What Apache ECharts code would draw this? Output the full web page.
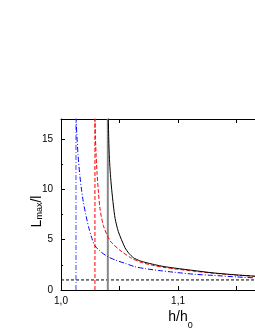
<!DOCTYPE html>
<html><head><meta charset="utf-8">
<script src="https://cdn.jsdelivr.net/npm/echarts@6/dist/echarts.min.js"></script>
<style>html,body{margin:0;padding:0;background:#fff}#c{width:255px;height:330px}</style>
</head><body><div id="c"></div>
<script>
const blueX = [1.0128,1.0135,1.0145,1.0160,1.0175,1.0190,1.0210,1.0235,1.0265,1.029,1.034,1.040,1.047,1.0547,1.063,1.072,1.083,1.097,1.1145,1.13,1.15,1.17];
const blueY = [17.2,15.5,13.5,11.5,10.0,8.8,7.6,6.3,5.1,4.4,3.8,3.31,2.95,2.65,2.32,2.12,1.95,1.76,1.56,1.45,1.3,1.18];
const redX = [1.0290,1.0294,1.0300,1.0308,1.0318,1.0333,1.0362,1.0419,1.0504,1.0604,1.069,1.080,1.088,1.097,1.1145,1.13,1.15,1.17];
const redY = [17.2,15.2,13.4,11.6,10.0,8.1,6.4,4.9,3.95,3.15,2.72,2.42,2.25,2.1,1.86,1.67,1.48,1.33];
const blackX = [1.0404,1.0408,1.0414,1.0422,1.0433,1.0447,1.0462,1.049,1.0547,1.058,1.062,1.067,1.0718,1.080,1.088,1.097,1.1145,1.13,1.15,1.17];
const blackY = [17.2,15.0,13.0,11.5,10.0,8.45,7.12,5.8,4.2,3.65,3.2,2.92,2.75,2.52,2.33,2.18,1.92,1.7,1.5,1.34];
const blueAsym = 1.0128, redAsym = 1.029, blackAsym = 1.040;
const refLevel = 1;
const xMin = 1.0, xMax = 1.17, yMin = 0, yMax = 17;
const xTicks = [1.0, 1.1];
const yTicks = [0, 5, 10, 15];

const zip = (a, b) => a.map((v, i) => [v, b[i]]);
const font = "'Liberation Sans', Arial, sans-serif";
const chart = echarts.init(document.getElementById('c'), null, {renderer: 'canvas'});
const axisCommon = {
  type: 'value', min: xMin, max: xMax, interval: 0.1,
  axisLine: {show: true, onZero: false, lineStyle: {color: '#000', width: 1}},
  axisTick: {show: true, inside: true, length: 4, lineStyle: {color: '#000'}},
  minorTick: {show: true, splitNumber: 2, length: 4, lineStyle: {color: '#000'}},
  splitLine: {show: false}
};
chart.setOption({
  animation: false,
  grid: {left: 61, top: 119, bottom: 40, right: -5, containLabel: false, outerBoundsMode: 'none'},
  xAxis: [
    Object.assign({}, axisCommon, {
      position: 'bottom',
      name: 'h/h{s|0}', nameLocation: 'middle', nameGap: 20, nameMoveOverlap: false,
      nameTextStyle: {fontFamily: font, fontSize: 14, color: '#000', padding: [0, 0, 0, 40],
        rich: {s: {fontSize: 9, fontFamily: font, color: '#000', verticalAlign: 'bottom', padding: [0,0,-6,0]}}},
      axisLabel: {show: true, margin: 6, fontFamily: font, fontSize: 10, color: '#000',
        showMaxLabel: false,
        formatter: v => xTicks.some(t => Math.abs(t - v) < 1e-9) ? v.toFixed(1).replace('.', ',') : ''}
    }),
    Object.assign({}, axisCommon, {position: 'top', axisLabel: {show: false}})
  ],
  yAxis: [{
    type: 'value', min: yMin, max: yMax, interval: 5,
    axisLine: {show: true, onZero: false, lineStyle: {color: '#000', width: 1}},
    axisTick: {show: true, inside: true, length: 4, lineStyle: {color: '#000'}},
    minorTick: {show: true, splitNumber: 2, length: 2, lineStyle: {color: '#000'}},
    splitLine: {show: false},
    axisLabel: {margin: 8, fontFamily: font, fontSize: 10, color: '#000', showMaxLabel: false,
      formatter: v => yTicks.includes(v) ? String(v) : ''},
    name: 'L{s|max}/l', nameLocation: 'middle', nameGap: 17, nameMoveOverlap: false,
    nameTextStyle: {fontFamily: font, fontSize: 14, color: '#000', padding: [0, 14, 0, 0],
      rich: {s: {fontSize: 9, fontFamily: font, color: '#000', padding: [0,0,-5,0]}}}
  }],
  series: [
    {type: 'line', data: [[xMin, refLevel], [xMax, refLevel]], symbol: 'none', lineStyle: {color: '#000', width: 1, type: [3, 2]}},
    {type: 'line', data: [[blueAsym, yMin], [blueAsym, yMax]], symbol: 'none', lineStyle: {color: '#4444ff', width: 1, type: [5, 2, 1, 2]}},
    {type: 'line', data: [[redAsym, yMin], [redAsym, yMax]], symbol: 'none', lineStyle: {color: '#ff0000', width: 1, type: [4, 2]}},
    {type: 'line', data: [[blackAsym, yMin], [blackAsym, yMax]], symbol: 'none', lineStyle: {color: '#888', width: 2}},
    {type: 'line', data: zip(blueX, blueY), symbol: 'none', smooth: 0.25, lineStyle: {color: '#0000ff', width: 1, type: [5, 2, 1, 2]}},
    {type: 'line', data: zip(redX, redY), symbol: 'none', smooth: 0.25, lineStyle: {color: '#ff0000', width: 1, type: [4, 2]}},
    {type: 'line', data: zip(blackX, blackY), symbol: 'none', smooth: 0.25, lineStyle: {color: '#000', width: 1}}
  ]
});
</script></body></html>
